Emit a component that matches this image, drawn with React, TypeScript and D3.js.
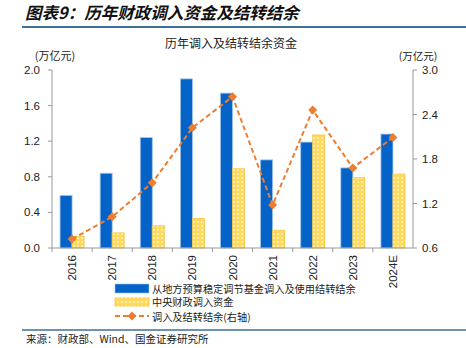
import React from "react";
import * as d3 from "d3";

const categories = ["2016", "2017", "2018", "2019", "2020", "2021", "2022", "2023", "2024E"];
const localFunds = [0.59, 0.84, 1.24, 1.9, 1.74, 0.99, 1.19, 0.9, 1.28];
const centralFunds = [0.13, 0.17, 0.25, 0.33, 0.89, 0.2, 1.27, 0.79, 0.83];
const totalRight = [0.72, 1.02, 1.48, 2.22, 2.64, 1.18, 2.46, 1.68, 2.09];
const leftTicks = [0, 0.4, 0.8, 1.2, 1.6, 2.0];
const rightTicks = [0.6, 1.2, 1.8, 2.4, 3.0];

const W = 466, H = 348;
const M = { left: 52, right: 413, top: 70, bottom: 248 };
const BLUE = "#0563c8";
const ORANGE = "#ed7d31";
const FONT = "'Noto Sans CJK SC', 'Liberation Sans', sans-serif";

export default function App() {
  const x = d3.scaleBand<string>().domain(categories).range([M.left, M.right]).paddingInner(0).paddingOuter(0);
  const yL = d3.scaleLinear().domain([0, 2]).range([M.bottom, M.top]);
  const yR = d3.scaleLinear().domain([0.6, 3.0]).range([M.bottom, M.top]);
  const bw = 12;
  const line = d3
    .line<number>()
    .x((_, i) => (x(categories[i]) as number) + x.bandwidth() / 2)
    .y((d) => yR(d));

  return (
    <svg width={W} height={H} style={{ position: "absolute", left: 0, top: 0, background: "#fff" }} fontFamily={FONT}>
      <defs>
        <pattern id="dots" width="4" height="4" patternUnits="userSpaceOnUse">
          <rect width="4" height="4" fill="#ffd95a" />
          <rect x="1" y="1.5" width="2" height="1" fill="#fff6d0" />
          <rect x="1.5" y="1" width="1" height="2" fill="#fff6d0" />
        </pattern>
      </defs>
      <text x={25} y={19} fontSize={16.5} fontWeight="bold" fontStyle="italic" fill="#111">
        图表9：历年财政调入资金及结转结余
      </text>
      <line x1={22} x2={466} y1={27} y2={27} stroke="#3f6f94" strokeWidth={2} />

      <text x={231} y={48} fontSize={12} textAnchor="middle" fill="#222">历年调入及结转结余资金</text>
      <text x={55} y={60} fontSize={11} textAnchor="middle" fill="#222">(万亿元)</text>
      <text x={418} y={60} fontSize={10.5} textAnchor="middle" fill="#222">(万亿元)</text>

      {/* bars */}
      {categories.map((c, i) => {
        const cx = (x(c) as number) + x.bandwidth() / 2;
        return (
          <g key={c}>
            <rect x={cx - bw} y={yL(localFunds[i])} width={bw} height={M.bottom - yL(localFunds[i])} fill={BLUE} stroke="#9cc3ee" strokeWidth={0.8} />
            <rect x={cx} y={yL(centralFunds[i])} width={bw} height={M.bottom - yL(centralFunds[i])} fill="url(#dots)" stroke="#f5c542" strokeWidth={0.8} />
          </g>
        );
      })}

      {/* line */}
      <path d={line(totalRight) || ""} fill="none" stroke={ORANGE} strokeWidth={2} strokeDasharray="5,3" />
      {totalRight.map((v, i) => {
        const cx = (x(categories[i]) as number) + x.bandwidth() / 2;
        const cy = yR(v);
        return <path key={i} d={`M${cx},${cy - 4.5}L${cx + 4.5},${cy}L${cx},${cy + 4.5}L${cx - 4.5},${cy}Z`} fill={ORANGE} />;
      })}

      {/* left axis */}
      <line x1={M.left} x2={M.left} y1={M.top} y2={M.bottom} stroke="#999" />
      {leftTicks.map((t) => (
        <g key={t}>
          <line x1={M.left - 4} x2={M.left} y1={yL(t)} y2={yL(t)} stroke="#999" />
          <text x={M.left - 12} y={yL(t) + 4} fontSize={11.5} textAnchor="end" fill="#222" fontFamily="'Liberation Sans', sans-serif">{t.toFixed(1)}</text>
        </g>
      ))}
      {/* right axis */}
      <line x1={M.right} x2={M.right} y1={M.top} y2={M.bottom} stroke="#999" />
      {rightTicks.map((t) => (
        <g key={t}>
          <line x1={M.right} x2={M.right + 4} y1={yR(t)} y2={yR(t)} stroke="#999" />
          <text x={M.right + 9} y={yR(t) + 4} fontSize={11.5} textAnchor="start" fill="#222" fontFamily="'Liberation Sans', sans-serif">{t.toFixed(1)}</text>
        </g>
      ))}
      {/* x axis */}
      <line x1={M.left} x2={M.right} y1={M.bottom} y2={M.bottom} stroke="#999" />
      {categories.map((c) => (
        <line key={"t" + c} x1={(x(c) as number)} x2={(x(c) as number)} y1={M.bottom} y2={M.bottom + 4} stroke="#999" />
      ))}
      {categories.map((c) => {
        const cx = (x(c) as number) + x.bandwidth() / 2;
        return (
          <text key={"l" + c} transform={`translate(${cx + 4},${M.bottom + 7}) rotate(-90)`} fontSize={11.5} textAnchor="end" fill="#222" fontFamily="'Liberation Sans', sans-serif">{c}</text>
        );
      })}

      {/* legend */}
      <rect x={115} y={284} width={34} height={9} fill={BLUE} stroke="#9cc3ee" strokeWidth={0.6} />
      <text x={152} y={292.5} fontSize={10.2} fill="#222">从地方预算稳定调节基金调入及使用结转结余</text>
      <rect x={115} y={298} width={34} height={8} fill="url(#dots)" stroke="#f5c542" strokeWidth={0.8} />
      <text x={152} y={306.3} fontSize={10.2} fill="#222">中央财政调入资金</text>
      <line x1={115} x2={149} y1={316} y2={316} stroke={ORANGE} strokeWidth={2} strokeDasharray="5,3" />
      <path d="M132,311.5L136.5,316L132,320.5L127.5,316Z" fill={ORANGE} />
      <text x={152} y={320.5} fontSize={10.2} fill="#222">调入及结转结余(右轴)</text>

      <line x1={22} x2={466} y1={330} y2={330} stroke="#3f6f94" strokeWidth={1.5} />
      <text x={26} y={343} fontSize={10.5} fill="#222">来源：财政部、Wind、国金证券研究所</text>
    </svg>
  );
}
